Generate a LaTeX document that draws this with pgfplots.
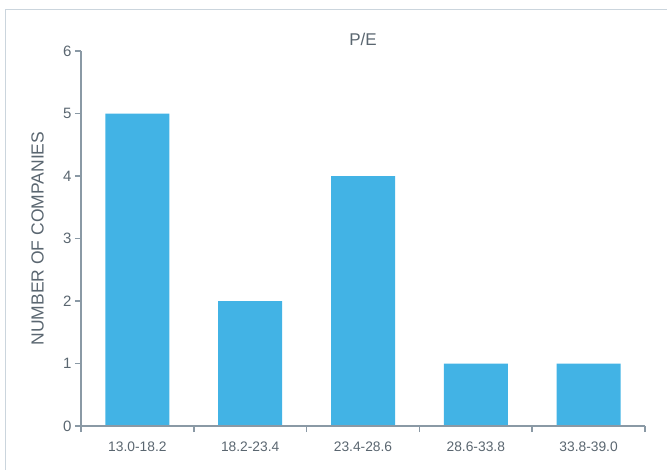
\documentclass[border=0pt]{standalone}
\usepackage{fontspec}
\setmainfont{Liberation Sans}
\usepackage{pgfplots}
\pgfplotsset{compat=1.18}
\definecolor{barblue}{HTML}{42B3E5}
\definecolor{axisgray}{HTML}{8A99A5}
\definecolor{textgray}{HTML}{5A6670}
\definecolor{framegray}{HTML}{CBD5DD}
\begin{document}
\begin{tikzpicture}
\useasboundingbox (0bp,0bp) rectangle (667bp,470bp);
% outer frame (left and top edges only)
\draw[framegray, line width=1.5bp] (5.5bp,0bp) -- (5.5bp,460.5bp) -- (667bp,460.5bp);
\begin{axis}[
    at={(81bp,44bp)}, anchor=south west,
    scale only axis, width=564bp, height=375bp,
    xmin=0.5, xmax=5.5, ymin=0, ymax=6,
    axis x line=bottom, axis y line=left,
    axis line style={axisgray, line width=1.6bp, -},
    axis on top,
    tick align=outside,
    major tick length=6bp, minor tick length=6bp,
    xtick={1,2,3,4,5},
    xticklabels={13.0-18.2,18.2-23.4,23.4-28.6,28.6-33.8,33.8-39.0},
    major x tick style={draw=none},
    minor xtick={0.5,1.5,2.5,3.5,4.5,5.5},
    minor x tick style={axisgray, line width=1.6bp},
    ytick={0,1,2,3,4,5,6},
    ytick style={axisgray, line width=1.6bp},
    /pgf/number format/assume math mode=true,
    x tick label style={font=\fontsize{13.8bp}{16bp}\selectfont, text=textgray, anchor=center, yshift=-15bp},
    y tick label style={font=\fontsize{15bp}{18bp}\selectfont, text=textgray},
    ylabel={NUMBER OF COMPANIES},
    ylabel style={at={(axis description cs:-0.0771,0.5)}, anchor=center,
        font=\fontsize{17.5bp}{20bp}\selectfont, text=textgray},
    title={P/E},
    title style={at={(axis description cs:0.5,1)}, anchor=center, yshift=6bp,
        font=\fontsize{17bp}{20bp}\selectfont, text=textgray},
]
\addplot[ybar, fill=barblue, draw=none, bar width=64bp] coordinates {
    (1,5) (2,2) (3,4) (4,1) (5,1)
};
\end{axis}
\end{tikzpicture}
\end{document}
